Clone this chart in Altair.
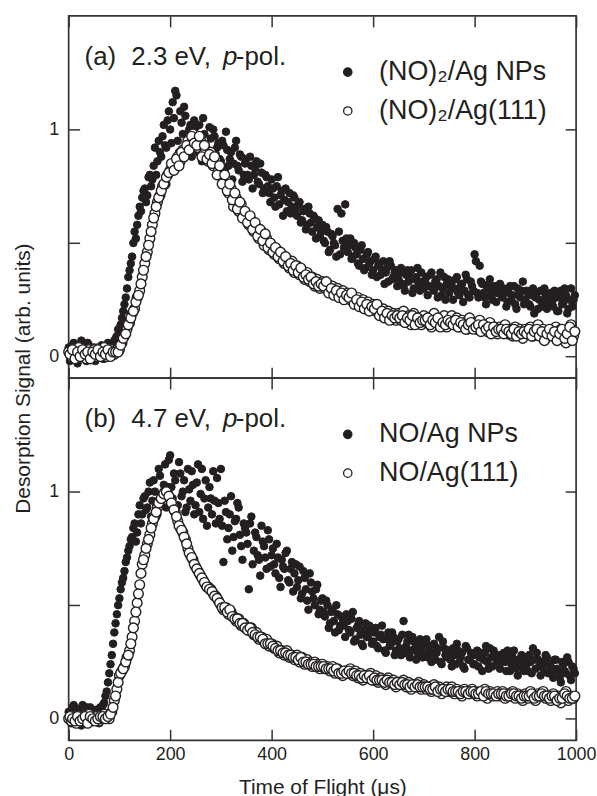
import altair as alt
import pandas as pd

# ---------------- data ----------------
# time-of-flight sampling grids, microseconds
TOF_US = list(range(0, 1000, 5))                 # 0, 5, ..., 995
TOF_MID_US = [t + 2.5 for t in TOF_US]           # 2.5, 7.5, ..., 997.5

# (a) 2.3 eV, p-pol.  -- (NO)2 / Ag NPs (filled), two interleaved sweeps
A_NP = [
    0.04, -0.01, 0.06, 0.02, 0.00, 0.07, 0.03, -0.02, 0.05, 0.01,
    0.04, 0.00, 0.02, 0.05, -0.01, 0.03, 0.05, 0.04, 0.07, 0.09,
    0.12, 0.17, 0.23, 0.30, 0.38, 0.44, 0.55, 0.58, 0.66, 0.70,
    0.74, 0.71, 0.80, 0.78, 0.92, 0.86, 0.90, 0.97, 0.93, 1.04,
    1.00, 1.12, 1.17, 0.95, 1.08, 0.98, 1.06, 0.92, 1.02, 0.95,
    1.01, 0.90, 0.97, 1.05, 0.93, 0.88, 0.96, 1.00, 0.89, 0.94,
    0.86, 0.93, 0.99, 0.84, 0.90, 0.85, 0.95, 0.82, 0.88, 0.80,
    0.87, 0.78, 0.84, 0.80, 0.86, 0.76, 0.81, 0.74, 0.79, 0.72,
    0.78, 0.70, 0.75, 0.67, 0.73, 0.69, 0.64, 0.72, 0.66, 0.70,
    0.62, 0.68, 0.60, 0.65, 0.58, 0.63, 0.55, 0.61, 0.57, 0.53,
    0.58, 0.50, 0.55, 0.47, 0.53, 0.49, 0.65, 0.45, 0.51, 0.67,
    0.46, 0.52, 0.44, 0.48, 0.41, 0.47, 0.43, 0.39, 0.46, 0.42,
    0.38, 0.44, 0.40, 0.36, 0.42, 0.37, 0.33, 0.40, 0.35, 0.38,
    0.34, 0.39, 0.31, 0.36, 0.33, 0.38, 0.30, 0.35, 0.32, 0.37,
    0.30, 0.35, 0.31, 0.37, 0.29, 0.34, 0.31, 0.27, 0.35, 0.32,
    0.28, 0.33, 0.30, 0.35, 0.27, 0.32, 0.29, 0.34, 0.26, 0.31,
    0.45, 0.28, 0.40, 0.32, 0.26, 0.30, 0.34, 0.25, 0.31, 0.28,
    0.32, 0.26, 0.29, 0.24, 0.31, 0.27, 0.23, 0.30, 0.26, 0.33,
    0.25, 0.28, 0.22, 0.30, 0.26, 0.21, 0.29, 0.24, 0.27, 0.23,
    0.28, 0.22, 0.26, 0.20, 0.29, 0.24, 0.27, 0.21, 0.30, 0.25,
]
A_NP_MID = [
    -0.02, 0.05, 0.01, -0.03, 0.04, 0.02, -0.01, 0.06, 0.00, 0.03,
    -0.02, 0.04, 0.01, -0.01, 0.03, 0.06, 0.02, 0.05, 0.08, 0.12,
    0.14, 0.20, 0.26, 0.35, 0.41, 0.50, 0.52, 0.62, 0.64, 0.73,
    0.68, 0.79, 0.75, 0.84, 0.80, 0.95, 0.88, 1.02, 0.92, 1.08,
    0.94, 1.05, 1.15, 0.90, 1.03, 1.10, 0.93, 1.00, 0.88, 1.04,
    0.92, 1.02, 0.86, 0.98, 0.91, 1.01, 0.85, 0.97, 0.92, 0.87,
    0.95, 0.82, 0.91, 0.87, 0.78, 0.92, 0.84, 0.89, 0.77, 0.85,
    0.80, 0.88, 0.74, 0.83, 0.77, 0.85, 0.72, 0.80, 0.75, 0.68,
    0.74, 0.66, 0.79, 0.71, 0.62, 0.74, 0.68, 0.63, 0.71, 0.65,
    0.67, 0.59, 0.64, 0.56, 0.66, 0.59, 0.62, 0.52, 0.60, 0.55,
    0.51, 0.57, 0.46, 0.54, 0.50, 0.44, 0.55, 0.63, 0.48, 0.52,
    0.49, 0.43, 0.50, 0.45, 0.40, 0.49, 0.38, 0.45, 0.41, 0.36,
    0.43, 0.35, 0.41, 0.38, 0.32, 0.39, 0.42, 0.34, 0.37, 0.31,
    0.37, 0.32, 0.29, 0.38, 0.35, 0.28, 0.34, 0.39, 0.29, 0.33,
    0.33, 0.27, 0.36, 0.30, 0.33, 0.26, 0.37, 0.30, 0.25, 0.34,
    0.31, 0.25, 0.34, 0.28, 0.31, 0.24, 0.36, 0.27, 0.33, 0.29,
    0.42, 0.26, 0.33, 0.28, 0.23, 0.32, 0.27, 0.30, 0.24, 0.29,
    0.27, 0.30, 0.22, 0.28, 0.25, 0.31, 0.21, 0.27, 0.29, 0.23,
    0.29, 0.23, 0.27, 0.19, 0.28, 0.25, 0.22, 0.30, 0.21, 0.26,
    0.24, 0.29, 0.20, 0.26, 0.23, 0.30, 0.19, 0.25, 0.22, 0.27,
]

# (a) (NO)2 / Ag(111) (open), two interleaved sweeps
A_111 = [
    0.02, 0.00, 0.03, 0.01, 0.04, 0.00, 0.02, -0.01, 0.03, 0.01,
    0.03, 0.00, 0.02, 0.01, 0.04, 0.00, 0.02, 0.03, 0.01, 0.03,
    0.03, 0.06, 0.09, 0.12, 0.15, 0.19, 0.21, 0.26, 0.29, 0.35,
    0.41, 0.46, 0.52, 0.58, 0.63, 0.68, 0.71, 0.75, 0.76, 0.80,
    0.82, 0.84, 0.83, 0.88, 0.86, 0.91, 0.90, 0.95, 0.93, 0.98,
    0.96, 0.92, 0.95, 0.89, 0.91, 0.86, 0.90, 0.84, 0.87, 0.82,
    0.80, 0.77, 0.78, 0.72, 0.74, 0.66, 0.70, 0.64, 0.67, 0.62,
    0.61, 0.58, 0.60, 0.55, 0.57, 0.52, 0.55, 0.49, 0.52, 0.47,
    0.49, 0.45, 0.47, 0.43, 0.45, 0.41, 0.43, 0.39, 0.42, 0.37,
    0.40, 0.36, 0.38, 0.34, 0.37, 0.33, 0.35, 0.31, 0.34, 0.30,
    0.33, 0.30, 0.32, 0.29, 0.31, 0.28, 0.30, 0.27, 0.29, 0.26,
    0.28, 0.25, 0.27, 0.24, 0.26, 0.23, 0.25, 0.22, 0.24, 0.21,
    0.23, 0.20, 0.22, 0.19, 0.21, 0.18, 0.20, 0.17, 0.19, 0.16,
    0.19, 0.16, 0.20, 0.15, 0.18, 0.14, 0.19, 0.16, 0.17, 0.14,
    0.18, 0.15, 0.17, 0.13, 0.19, 0.15, 0.16, 0.14, 0.18, 0.13,
    0.16, 0.18, 0.14, 0.17, 0.13, 0.16, 0.15, 0.12, 0.17, 0.14,
    0.15, 0.12, 0.16, 0.13, 0.14, 0.11, 0.15, 0.12, 0.13, 0.10,
    0.13, 0.11, 0.14, 0.10, 0.12, 0.09, 0.13, 0.11, 0.12, 0.08,
    0.12, 0.10, 0.13, 0.09, 0.11, 0.14, 0.10, 0.12, 0.08, 0.11,
    0.11, 0.09, 0.13, 0.08, 0.12, 0.10, 0.06, 0.11, 0.14, 0.09,
]
A_111_MID = [
    0.01, 0.03, -0.01, 0.02, 0.00, 0.03, 0.01, 0.02, -0.01, 0.02,
    0.01, 0.03, 0.00, 0.02, 0.01, 0.03, 0.00, 0.02, 0.02, 0.02,
    0.05, 0.08, 0.10, 0.14, 0.17, 0.20, 0.24, 0.27, 0.32, 0.38,
    0.44, 0.49, 0.55, 0.61, 0.66, 0.70, 0.73, 0.76, 0.79, 0.81,
    0.85, 0.82, 0.87, 0.84, 0.90, 0.88, 0.93, 0.91, 0.97, 0.94,
    0.93, 0.97, 0.88, 0.93, 0.87, 0.89, 0.85, 0.88, 0.80, 0.84,
    0.76, 0.80, 0.73, 0.76, 0.69, 0.72, 0.65, 0.68, 0.61, 0.64,
    0.59, 0.62, 0.56, 0.59, 0.53, 0.56, 0.51, 0.54, 0.48, 0.50,
    0.46, 0.48, 0.44, 0.46, 0.42, 0.44, 0.40, 0.41, 0.38, 0.40,
    0.37, 0.39, 0.35, 0.36, 0.34, 0.35, 0.32, 0.33, 0.31, 0.32,
    0.31, 0.33, 0.28, 0.30, 0.27, 0.29, 0.26, 0.28, 0.25, 0.27,
    0.26, 0.28, 0.23, 0.25, 0.22, 0.24, 0.21, 0.23, 0.20, 0.22,
    0.21, 0.23, 0.18, 0.20, 0.17, 0.19, 0.16, 0.18, 0.17, 0.18,
    0.17, 0.18, 0.15, 0.17, 0.16, 0.18, 0.14, 0.17, 0.15, 0.16,
    0.16, 0.17, 0.14, 0.16, 0.15, 0.17, 0.13, 0.15, 0.14, 0.16,
    0.15, 0.14, 0.16, 0.13, 0.15, 0.14, 0.12, 0.14, 0.15, 0.12,
    0.13, 0.14, 0.11, 0.14, 0.12, 0.13, 0.10, 0.13, 0.11, 0.12,
    0.12, 0.10, 0.12, 0.11, 0.10, 0.12, 0.09, 0.11, 0.10, 0.11,
    0.10, 0.12, 0.09, 0.11, 0.12, 0.09, 0.11, 0.07, 0.10, 0.12,
    0.09, 0.11, 0.07, 0.10, 0.12, 0.08, 0.10, 0.13, 0.07, 0.11,
]

# (b) 4.7 eV, p-pol.  -- NO / Ag NPs (filled), two interleaved sweeps
B_NP = [
    0.03, -0.02, 0.06, 0.00, 0.04, -0.03, 0.02, 0.05, -0.01, 0.03,
    0.00, 0.04, -0.02, 0.05, 0.07, 0.12, 0.20, 0.28, 0.38, 0.46,
    0.53, 0.60, 0.65, 0.71, 0.76, 0.80, 0.86, 0.82, 0.94, 0.90,
    0.98, 0.93, 1.04, 0.96, 1.00, 0.90, 1.07, 0.99, 1.12, 1.02,
    1.16, 0.97, 1.05, 0.94, 1.08, 1.00, 0.91, 1.10, 0.96, 1.03,
    0.94, 1.12, 0.99, 0.88, 1.05, 0.93, 0.97, 1.09, 0.86, 0.95,
    1.10, 0.69, 0.91, 0.84, 0.98, 0.80, 0.88, 0.93, 0.76, 0.86,
    0.82, 0.57, 0.89, 0.74, 0.80, 0.70, 0.85, 0.76, 0.66, 0.79,
    0.72, 0.68, 0.77, 0.62, 0.70, 0.66, 0.74, 0.60, 0.69, 0.64,
    0.58, 0.67, 0.55, 0.62, 0.52, 0.64, 0.56, 0.50, 0.59, 0.48,
    0.53, 0.45, 0.50, 0.42, 0.48, 0.38, 0.46, 0.41, 0.44, 0.36,
    0.43, 0.38, 0.47, 0.35, 0.41, 0.37, 0.32, 0.42, 0.36, 0.39,
    0.34, 0.40, 0.31, 0.37, 0.35, 0.29, 0.38, 0.33, 0.36, 0.30,
    0.35, 0.28, 0.43, 0.32, 0.37, 0.30, 0.34, 0.26, 0.33, 0.31,
    0.28, 0.35, 0.30, 0.25, 0.33, 0.29, 0.36, 0.24, 0.31, 0.27,
    0.30, 0.23, 0.28, 0.33, 0.25, 0.29, 0.22, 0.31, 0.26, 0.28,
    0.24, 0.30, 0.27, 0.21, 0.29, 0.25, 0.31, 0.23, 0.27, 0.26,
    0.22, 0.28, 0.25, 0.30, 0.21, 0.27, 0.24, 0.19, 0.26, 0.23,
    0.27, 0.21, 0.25, 0.31, 0.22, 0.26, 0.19, 0.24, 0.28, 0.20,
    0.23, 0.18, 0.26, 0.21, 0.16, 0.24, 0.20, 0.25, 0.17, 0.22,
]
B_NP_MID = [
    -0.01, 0.05, 0.01, 0.04, -0.02, 0.06, 0.00, 0.03, 0.05, -0.01,
    0.03, 0.00, 0.05, 0.06, 0.10, 0.16, 0.24, 0.33, 0.42, 0.50,
    0.57, 0.62, 0.69, 0.74, 0.79, 0.84, 0.78, 0.90, 0.86, 0.97,
    0.92, 1.00, 0.89, 1.05, 0.94, 1.10, 0.97, 1.03, 0.93, 1.14,
    1.02, 1.08, 0.89, 1.13, 0.98, 1.05, 0.93, 1.01, 1.09, 0.90,
    1.04, 0.91, 1.10, 0.97, 0.85, 1.02, 0.90, 0.96, 1.06, 0.88,
    0.85, 0.96, 0.79, 0.90, 0.74, 0.87, 0.95, 0.81, 0.70, 0.84,
    0.77, 0.86, 0.68, 0.82, 0.72, 0.63, 0.78, 0.71, 0.83, 0.67,
    0.75, 0.64, 0.71, 0.58, 0.67, 0.73, 0.61, 0.66, 0.56, 0.68,
    0.61, 0.53, 0.65, 0.57, 0.48, 0.60, 0.53, 0.57, 0.46, 0.52,
    0.47, 0.52, 0.40, 0.47, 0.43, 0.50, 0.39, 0.45, 0.41, 0.46,
    0.39, 0.44, 0.34, 0.40, 0.43, 0.33, 0.39, 0.36, 0.41, 0.33,
    0.38, 0.32, 0.36, 0.41, 0.30, 0.35, 0.32, 0.38, 0.28, 0.34,
    0.31, 0.37, 0.29, 0.34, 0.27, 0.36, 0.31, 0.29, 0.35, 0.27,
    0.33, 0.27, 0.32, 0.29, 0.26, 0.31, 0.25, 0.34, 0.28, 0.30,
    0.26, 0.31, 0.24, 0.30, 0.27, 0.23, 0.32, 0.26, 0.29, 0.24,
    0.28, 0.23, 0.29, 0.26, 0.32, 0.22, 0.27, 0.30, 0.24, 0.28,
    0.25, 0.29, 0.21, 0.27, 0.24, 0.30, 0.22, 0.26, 0.28, 0.21,
    0.24, 0.28, 0.20, 0.26, 0.29, 0.23, 0.25, 0.21, 0.27, 0.24,
    0.20, 0.26, 0.22, 0.18, 0.25, 0.21, 0.27, 0.19, 0.23, 0.20,
]

# (b) NO / Ag(111) (open), two interleaved sweeps
B_111 = [
    0.00, -0.01, 0.01, -0.02, 0.00, 0.01, -0.01, 0.00, 0.02, -0.01,
    0.00, 0.01, -0.01, 0.00, 0.02, 0.01, 0.00, 0.03, 0.08, 0.13,
    0.19, 0.21, 0.23, 0.27, 0.30, 0.36, 0.43, 0.51, 0.59, 0.68,
    0.72, 0.77, 0.81, 0.86, 0.89, 0.93, 0.96, 0.98, 1.00, 0.99,
    0.97, 0.94, 0.91, 0.87, 0.84, 0.82, 0.79, 0.75, 0.72, 0.70,
    0.67, 0.65, 0.63, 0.61, 0.59, 0.58, 0.57, 0.55, 0.54, 0.52,
    0.50, 0.48, 0.49, 0.46, 0.47, 0.45, 0.43, 0.44, 0.41, 0.42,
    0.40, 0.39, 0.40, 0.37, 0.38, 0.35, 0.36, 0.34, 0.35, 0.32,
    0.33, 0.31, 0.32, 0.29, 0.30, 0.28, 0.30, 0.27, 0.28, 0.26,
    0.28, 0.25, 0.27, 0.24, 0.26, 0.25, 0.23, 0.25, 0.24, 0.22,
    0.24, 0.22, 0.23, 0.21, 0.23, 0.20, 0.22, 0.21, 0.19, 0.21,
    0.20, 0.22, 0.19, 0.21, 0.18, 0.20, 0.17, 0.19, 0.18, 0.20,
    0.17, 0.19, 0.16, 0.18, 0.17, 0.15, 0.18, 0.16, 0.17, 0.14,
    0.16, 0.15, 0.17, 0.14, 0.16, 0.13, 0.15, 0.14, 0.16, 0.13,
    0.15, 0.13, 0.14, 0.12, 0.15, 0.13, 0.14, 0.11, 0.13, 0.14,
    0.12, 0.14, 0.11, 0.13, 0.12, 0.10, 0.13, 0.12, 0.11, 0.13,
    0.12, 0.10, 0.12, 0.11, 0.13, 0.09, 0.12, 0.10, 0.11, 0.12,
    0.10, 0.12, 0.09, 0.11, 0.10, 0.12, 0.09, 0.11, 0.10, 0.08,
    0.11, 0.09, 0.12, 0.10, 0.08, 0.11, 0.10, 0.12, 0.09, 0.10,
    0.08, 0.11, 0.09, 0.10, 0.07, 0.10, 0.12, 0.08, 0.10, 0.09,
]
B_111_MID = [
    0.01, 0.00, -0.01, 0.01, -0.01, 0.00, 0.01, -0.02, 0.01, 0.00,
    -0.01, 0.00, 0.01, 0.01, 0.00, 0.01, 0.02, 0.05, 0.10, 0.16,
    0.20, 0.22, 0.25, 0.28, 0.33, 0.40, 0.47, 0.55, 0.64, 0.70,
    0.75, 0.79, 0.84, 0.88, 0.91, 0.95, 0.97, 0.99, 1.00, 0.98,
    0.95, 0.92, 0.89, 0.85, 0.83, 0.80, 0.77, 0.73, 0.71, 0.68,
    0.66, 0.64, 0.62, 0.60, 0.58, 0.57, 0.56, 0.54, 0.53, 0.51,
    0.49, 0.49, 0.47, 0.48, 0.45, 0.44, 0.44, 0.42, 0.42, 0.40,
    0.39, 0.40, 0.38, 0.37, 0.36, 0.36, 0.35, 0.33, 0.33, 0.33,
    0.32, 0.31, 0.30, 0.30, 0.29, 0.29, 0.28, 0.28, 0.27, 0.27,
    0.26, 0.27, 0.25, 0.25, 0.24, 0.24, 0.24, 0.23, 0.23, 0.23,
    0.23, 0.22, 0.22, 0.22, 0.21, 0.22, 0.20, 0.20, 0.21, 0.20,
    0.21, 0.20, 0.20, 0.19, 0.19, 0.18, 0.19, 0.18, 0.19, 0.17,
    0.18, 0.17, 0.17, 0.17, 0.16, 0.17, 0.16, 0.16, 0.15, 0.16,
    0.15, 0.16, 0.15, 0.15, 0.14, 0.15, 0.14, 0.15, 0.14, 0.14,
    0.14, 0.14, 0.13, 0.13, 0.14, 0.12, 0.13, 0.13, 0.12, 0.13,
    0.13, 0.12, 0.12, 0.12, 0.11, 0.12, 0.12, 0.11, 0.12, 0.12,
    0.11, 0.11, 0.12, 0.10, 0.12, 0.11, 0.11, 0.11, 0.10, 0.11,
    0.11, 0.11, 0.10, 0.10, 0.11, 0.11, 0.10, 0.10, 0.09, 0.10,
    0.10, 0.10, 0.11, 0.09, 0.10, 0.10, 0.11, 0.10, 0.10, 0.09,
    0.10, 0.10, 0.08, 0.09, 0.09, 0.11, 0.10, 0.09, 0.09, 0.10,
]

SERIES_A = ["(NO)\u2082/Ag NPs", "(NO)\u2082/Ag(111)"]
SERIES_B = ["NO/Ag NPs", "NO/Ag(111)"]
PANEL_A = ["(a)", "2.3 eV,", "p", "-pol."]
PANEL_B = ["(b)", "4.7 eV,", "p", "-pol."]

X_TICKS = [0, 200, 400, 600, 800, 1000]
Y_TICKS = [0, 0.5, 1]
X_DOMAIN = [0, 1000]
Y_DOMAIN = [-0.095, 1.5]

X_TITLE = "Time of Flight (\u03bcs)"
Y_TITLE = "Desorption Signal (arb. units)"

# ---------------- styling ----------------
FONT = "Liberation Sans"
INK = "#231f20"
FRAME = "#333333"
W, H = 510, 364
TICK = 11
SIZE_FILLED, SIZE_OPEN = 58, 96
Y_LABELS = "datum.value == 0 ? '0' : (datum.value == 1 ? '1' : '')"


def make_df(times_list, vals_list, name):
    rows = []
    for times, vals in zip(times_list, vals_list):
        for t, v in zip(times, vals):
            rows.append({"t": t, "s": v, "series": name})
    return pd.DataFrame(rows)


def annot(label, x, y, size, italic=False):
    kw = dict(align="left", baseline="middle", font=FONT, fontSize=size, color=INK)
    if italic:
        kw["fontStyle"] = "italic"
    return alt.Chart(pd.DataFrame({"label": [label]})).mark_text(**kw).encode(
        text="label:N", x=alt.value(x), y=alt.value(y)
    )


def panel(np_vals, np_mid_vals, ag_vals, ag_mid_vals, names, tags, is_bottom):
    df_np = make_df([TOF_US, TOF_MID_US], [np_vals, np_mid_vals], names[0])
    df_ag = make_df([TOF_US, TOF_MID_US], [ag_vals, ag_mid_vals], names[1])
    xs = alt.Scale(domain=X_DOMAIN, nice=False, zero=False)
    ys = alt.Scale(domain=Y_DOMAIN, nice=False, zero=False)

    if is_bottom:
        x_axis = alt.Axis(orient="bottom", values=X_TICKS, offset=-TICK, tickSize=TICK,
                          domain=False, grid=False, labels=True, labelPadding=5,
                          labelFlush=False, format="d",
                          title=X_TITLE, titlePadding=13)
        y_axis = alt.Axis(orient="left", values=Y_TICKS, offset=-TICK, tickSize=TICK,
                          domain=False, grid=False, labelPadding=10,
                          labelExpr=Y_LABELS, title=None)
    else:
        x_axis = alt.Axis(orient="bottom", values=X_TICKS, offset=-TICK, tickSize=TICK,
                          domain=False, grid=False, labels=False, title=None)
        y_axis = alt.Axis(orient="left", values=Y_TICKS, offset=-TICK, tickSize=TICK,
                          domain=False, grid=False, labelPadding=10,
                          labelExpr=Y_LABELS,
                          title=Y_TITLE, titleX=-56, titleY=H,
                          titleAngle=270, titleAlign="center", titleBaseline="middle")

    leg = alt.Legend(orient="none", legendX=267, legendY=43, title=None,
                     labelFont=FONT, labelFontSize=27, labelColor=INK, labelLimit=500,
                     symbolType="circle", symbolSize=70, symbolStrokeWidth=1.3,
                     rowPadding=11, labelOffset=18, padding=0)
    fill_enc = alt.Fill("series:N", scale=alt.Scale(domain=names, range=[INK, "#ffffff"]), legend=leg)
    stroke_enc = alt.Stroke("series:N", scale=alt.Scale(domain=names, range=[INK, INK]), legend=leg)

    filled = alt.Chart(df_np).mark_point(
        shape="circle", filled=True, opacity=1, size=SIZE_FILLED, strokeWidth=1.0
    ).encode(
        x=alt.X("t:Q", scale=xs, axis=x_axis),
        y=alt.Y("s:Q", scale=ys, axis=y_axis),
        fill=fill_enc, stroke=stroke_enc,
    )

    opened = alt.Chart(df_ag).mark_point(
        shape="circle", filled=True, opacity=1, size=SIZE_OPEN, strokeWidth=1.4
    ).encode(
        x=alt.X("t:Q", scale=xs, axis=alt.Axis(orient="top", values=X_TICKS, offset=-TICK,
                                                tickSize=TICK, domain=False, grid=False,
                                                labels=False, title=None)),
        y=alt.Y("s:Q", scale=ys, axis=alt.Axis(orient="right", values=Y_TICKS, offset=-TICK,
                                                tickSize=TICK, domain=False, grid=False,
                                                labels=False, title=None)),
        fill=fill_enc, stroke=stroke_enc,
    )

    texts = [
        annot(tags[0], 16, 41, 26),
        annot(tags[1], 63, 41, 26),
        annot(tags[2], 155, 41, 26, italic=True),
        annot(tags[3], 168, 41, 26),
    ]

    return alt.layer(filled, opened, *texts).resolve_axis(
        x="independent", y="independent"
    ).properties(width=W, height=H)


top = panel(A_NP, A_NP_MID, A_111, A_111_MID, SERIES_A, PANEL_A, False)
bottom = panel(B_NP, B_NP_MID, B_111, B_111_MID, SERIES_B, PANEL_B, True)

chart = alt.vconcat(top, bottom, spacing=0, bounds="flush").resolve_scale(
    fill="independent", stroke="independent"
).resolve_legend(
    fill="independent", stroke="independent"
).properties(
    padding={"left": 12, "top": 12, "right": 0, "bottom": 0},
    background="white",
).configure_view(
    stroke=FRAME, strokeWidth=1.7
).configure_axis(
    tickColor=FRAME, tickWidth=1.5,
    labelFont=FONT, labelFontSize=18, labelColor=INK,
    titleFont=FONT, titleFontSize=21, titleColor=INK, titleFontWeight="normal",
)

chart.save("out.html", embed_options={"renderer": "svg", "actions": False})
